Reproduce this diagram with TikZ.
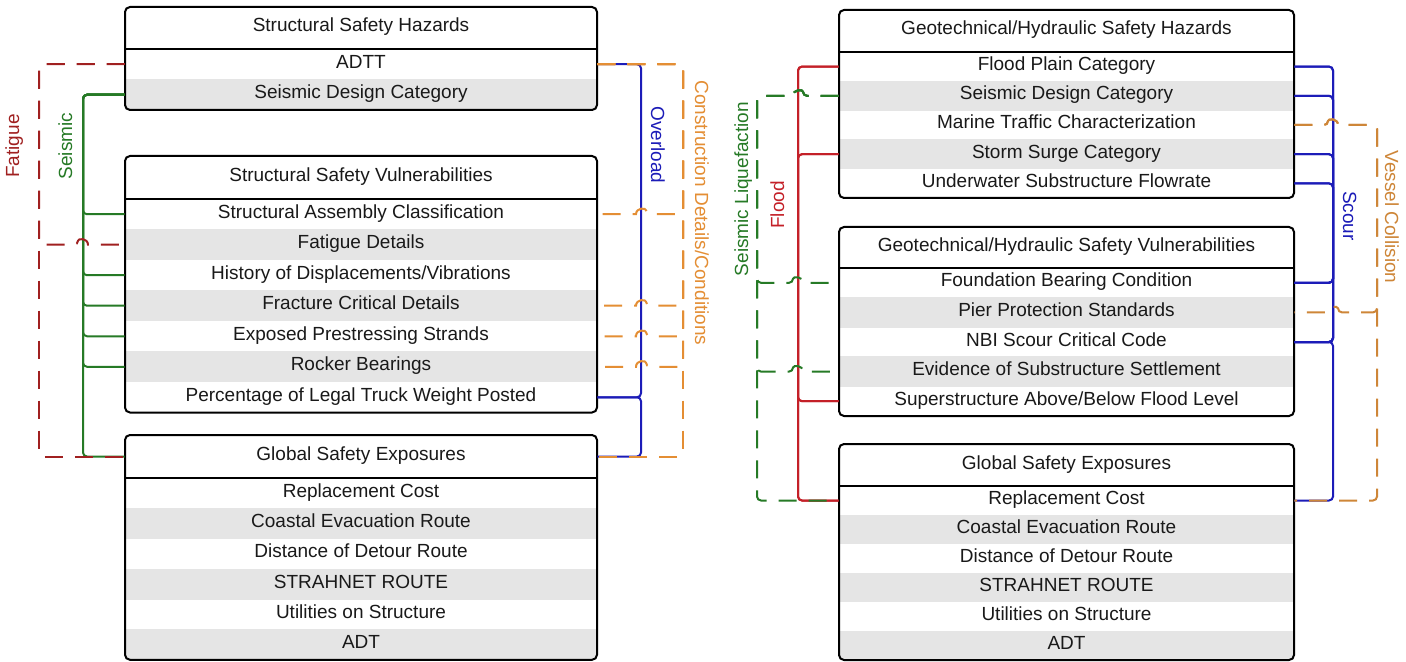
\documentclass[tikz,border=0pt]{standalone}
\usepackage{fontspec}
\setmainfont{Liberation Sans}
\usetikzlibrary{backgrounds,calc}

\definecolor{txt}{RGB}{25,25,25}
\definecolor{rowgray}{RGB}{229,229,229}
\definecolor{fatred}{RGB}{160,32,32}
\definecolor{floodred}{RGB}{196,32,40}
\definecolor{seisgreen}{RGB}{38,122,38}
\definecolor{scourblue}{RGB}{28,28,184}
\definecolor{consorange}{RGB}{228,142,52}
\definecolor{vesorange}{RGB}{206,134,56}

% #1 name prefix, #2 centre x, #3 top y, #4 header height, #5 row height,
% #6 width, #7 number of rows, #8 header text, #9 row texts
\newcommand\tablebox[9]{%
  \node[cell, minimum width=#6*0.5pt, minimum height=#4*0.5pt] (#1h) at (#2,{#3+#4/2}) {#8};
  \foreach \rowtext [count=\i] in {#9} {
    \node[cell, minimum width=#6*0.5pt, minimum height=#5*0.5pt] (#1-\i) at (#2,{#3+#4+(\i-0.5)*#5}) {\rowtext};
  }
  \begin{pgfonlayer}{background}
    \begin{scope}
      \clip[rounded corners=2.5pt] ({#2-#6/2},#3) rectangle ({#2+#6/2},{#3+#4+#7*#5});
      \foreach \i in {1,...,#7} {
        \ifodd\i\relax\else
          \fill[rowgray] (#1-\i.north west) rectangle (#1-\i.south east);
        \fi
      }
    \end{scope}
  \end{pgfonlayer}
  \draw[boxline] ({#2-#6/2},{#3+#4}) -- ({#2+#6/2},{#3+#4});
  \draw[boxline, rounded corners=2.5pt] ({#2-#6/2},#3) rectangle ({#2+#6/2},{#3+#4+#7*#5});
}

\begin{document}
\begin{tikzpicture}[x=0.5pt, y=-0.5pt,
  cell/.style={inner sep=0pt, text=txt, font=\fontsize{9.5}{11}\selectfont,
    text height=6.5pt, text depth=2.5pt},
  lbl/.style={inner sep=0pt, font=\fontsize{9.5}{11}\selectfont,
    text height=6.5pt, text depth=2.5pt},
  boxline/.style={draw=black, line width=1pt},
  conn/.style={line width=1pt, rounded corners=2pt},
  ldash/.style={dash pattern=on 9pt off 6pt}]

\useasboundingbox (0,0) rectangle (1406,662);
\begin{pgfonlayer}{background}
  \fill[white] (0,0) rectangle (1406,662);
\end{pgfonlayer}

% ---------- left panel: structural ----------
\tablebox{L1}{361}{7}{42}{30.5}{472}{2}{Structural Safety Hazards}
  {ADTT,Seismic Design Category}
\tablebox{L2}{361}{156}{43}{30.5}{472}{7}{Structural Safety Vulnerabilities}
  {Structural Assembly Classification,Fatigue Details,History of Displacements/Vibrations,Fracture Critical Details,Exposed Prestressing Strands,Rocker Bearings,Percentage of Legal Truck Weight Posted}
\tablebox{L3}{361}{435}{43}{30.3}{472}{6}{Global Safety Exposures}
  {Replacement Cost,Coastal Evacuation Route,Distance of Detour Route,STRAHNET ROUTE,Utilities on Structure,ADT}

% ---------- right panel: geotechnical / hydraulic ----------
\tablebox{R1}{1066.5}{10}{42}{29.2}{455}{5}{Geotechnical/Hydraulic Safety Hazards}
  {Flood Plain Category,Seismic Design Category,Marine Traffic Characterization,Storm Surge Category,Underwater Substructure Flowrate}
\tablebox{R2}{1066.5}{227}{41}{29.6}{455}{5}{Geotechnical/Hydraulic Safety Vulnerabilities}
  {Foundation Bearing Condition,Pier Protection Standards,NBI Scour Critical Code,Evidence of Substructure Settlement,Superstructure Above/Below Flood Level}
\tablebox{R3}{1066.5}{444}{42}{29}{455}{6}{Global Safety Exposures}
  {Replacement Cost,Coastal Evacuation Route,Distance of Detour Route,STRAHNET ROUTE,Utilities on Structure,ADT}

% vertical bus positions
\coordinate (busF)  at (39,0);
\coordinate (busS)  at (83,0);
\coordinate (busO)  at (641,0);
\coordinate (busC)  at (683,0);
\coordinate (busLq) at (757,0);
\coordinate (busFl) at (798,0);
\coordinate (busSc) at (1333,0);
\coordinate (busV)  at (1377,0);

% seismic
\foreach \tg in {L2-1,L2-3,L2-4,L2-5,L2-6,L3h}
  \draw[conn, seisgreen] (L1-2.west) -- (busS |- L1-2.west) |- (\tg.west);

% fatigue
\draw[conn, fatred, ldash] (L1-1.west) -- (busF |- L1-1.west) |- (L3h.west);
\draw[conn, fatred, ldash] (L1-1.west) -- (busF |- L1-1.west) -- (busF |- L2-2.west)
  -- ($(busS |- L2-2.west)+(-5,0)$) [sharp corners]
  .. controls +(0,-6.7) and +(0,-6.7) .. ++(10,0) [rounded corners=2pt] -- (L2-2.west);

% overload
\draw[conn, scourblue] (L1-1.east) -- (busO |- L1-1.east) |- (L2-7.east);
\draw[conn, scourblue] (L2-7.east) -- (busO |- L2-7.east) |- (L3h.east);

% construction details / conditions
\foreach \tg in {L2-1,L2-4,L2-5,L2-6}
  \draw[conn, consorange, ldash] (L1-1.east) -- (busC |- L1-1.east) -- (busC |- \tg.east)
    -- ($(busO |- \tg.east)+(5,0)$) [sharp corners]
    .. controls +(0,-6.7) and +(0,-6.7) .. ++(-10,0) [rounded corners=2pt] -- (\tg.east);
\draw[conn, consorange, ldash] (L1-1.east) -- (busC |- L1-1.east) |- (L3h.east);

% flood
\foreach \sr in {R1-1,R1-4}
  \foreach \tg in {R2-5,R3-1}
    \draw[conn, floodred] (\sr.west) -- (busFl |- \sr.west) |- (\tg.west);

% seismic liquefaction
\draw[conn, seisgreen, ldash] (R1-2.west) -- ($(busFl |- R1-2.west)+(5,0)$) [sharp corners]
  .. controls +(0,-6.7) and +(0,-6.7) .. ++(-10,0) [rounded corners=2pt]
  -- (busLq |- R1-2.west) |- (R3-1.west);
\foreach \tg in {R2-1,R2-4}
  \draw[conn, seisgreen, ldash] (R1-2.west) -- ($(busFl |- R1-2.west)+(5,0)$) [sharp corners]
    .. controls +(0,-6.7) and +(0,-6.7) .. ++(-10,0) [rounded corners=2pt]
    -- (busLq |- R1-2.west) -- (busLq |- \tg.west)
    -- ($(busFl |- \tg.west)+(-5,0)$) [sharp corners]
    .. controls +(0,-6.7) and +(0,-6.7) .. ++(10,0) [rounded corners=2pt] -- (\tg.west);

% scour
\foreach \sr in {R1-1,R1-2,R1-4,R1-5}
  \foreach \tg in {R2-1,R2-3}
    \draw[conn, scourblue] (\sr.east) -- (busSc |- \sr.east) |- (\tg.east);
\draw[conn, scourblue] (R2-3.east) -- (busSc |- R2-3.east) |- (R3-1.east);

% vessel collision
\draw[conn, vesorange, ldash] (R1-3.east) -- ($(busSc |- R1-3.east)+(-5,0)$) [sharp corners]
  .. controls +(0,-6.7) and +(0,-6.7) .. ++(10,0) [rounded corners=2pt]
  -- (busV |- R1-3.east) |- (R3-1.east);
\draw[conn, vesorange, ldash] (R1-3.east) -- ($(busSc |- R1-3.east)+(-5,0)$) [sharp corners]
  .. controls +(0,-6.7) and +(0,-6.7) .. ++(10,0) [rounded corners=2pt]
  -- (busV |- R1-3.east) -- (busV |- R2-2.east)
  -- ($(busSc |- R2-2.east)+(5,0)$) [sharp corners]
  .. controls +(0,-6.7) and +(0,-6.7) .. ++(-10,0) [rounded corners=2pt] -- (R2-2.east);

% connector labels
\node[lbl, text=fatred, rotate=90]      (tFat)   at (15,146)   {Fatigue};
\node[lbl, text=seisgreen, rotate=90]   (tSeis)  at (68,146)   {Seismic};
\node[lbl, text=scourblue, rotate=-90]  (tOvl)   at (655,145)  {Overload};
\node[lbl, text=consorange, rotate=-90] (tCons)  at (699,213)  {Construction Details/Conditions};
\node[lbl, text=seisgreen, rotate=90]   (tLiq)   at (744,189)  {Seismic Liquefaction};
\node[lbl, text=floodred, rotate=90]    (tFlood) at (780,205)  {Flood};
\node[lbl, text=scourblue, rotate=-90]  (tScour) at (1347,216) {Scour};
\node[lbl, text=vesorange, rotate=-90]  (tVes)   at (1389,217) {Vessel Collision};
\end{tikzpicture}
\end{document}
